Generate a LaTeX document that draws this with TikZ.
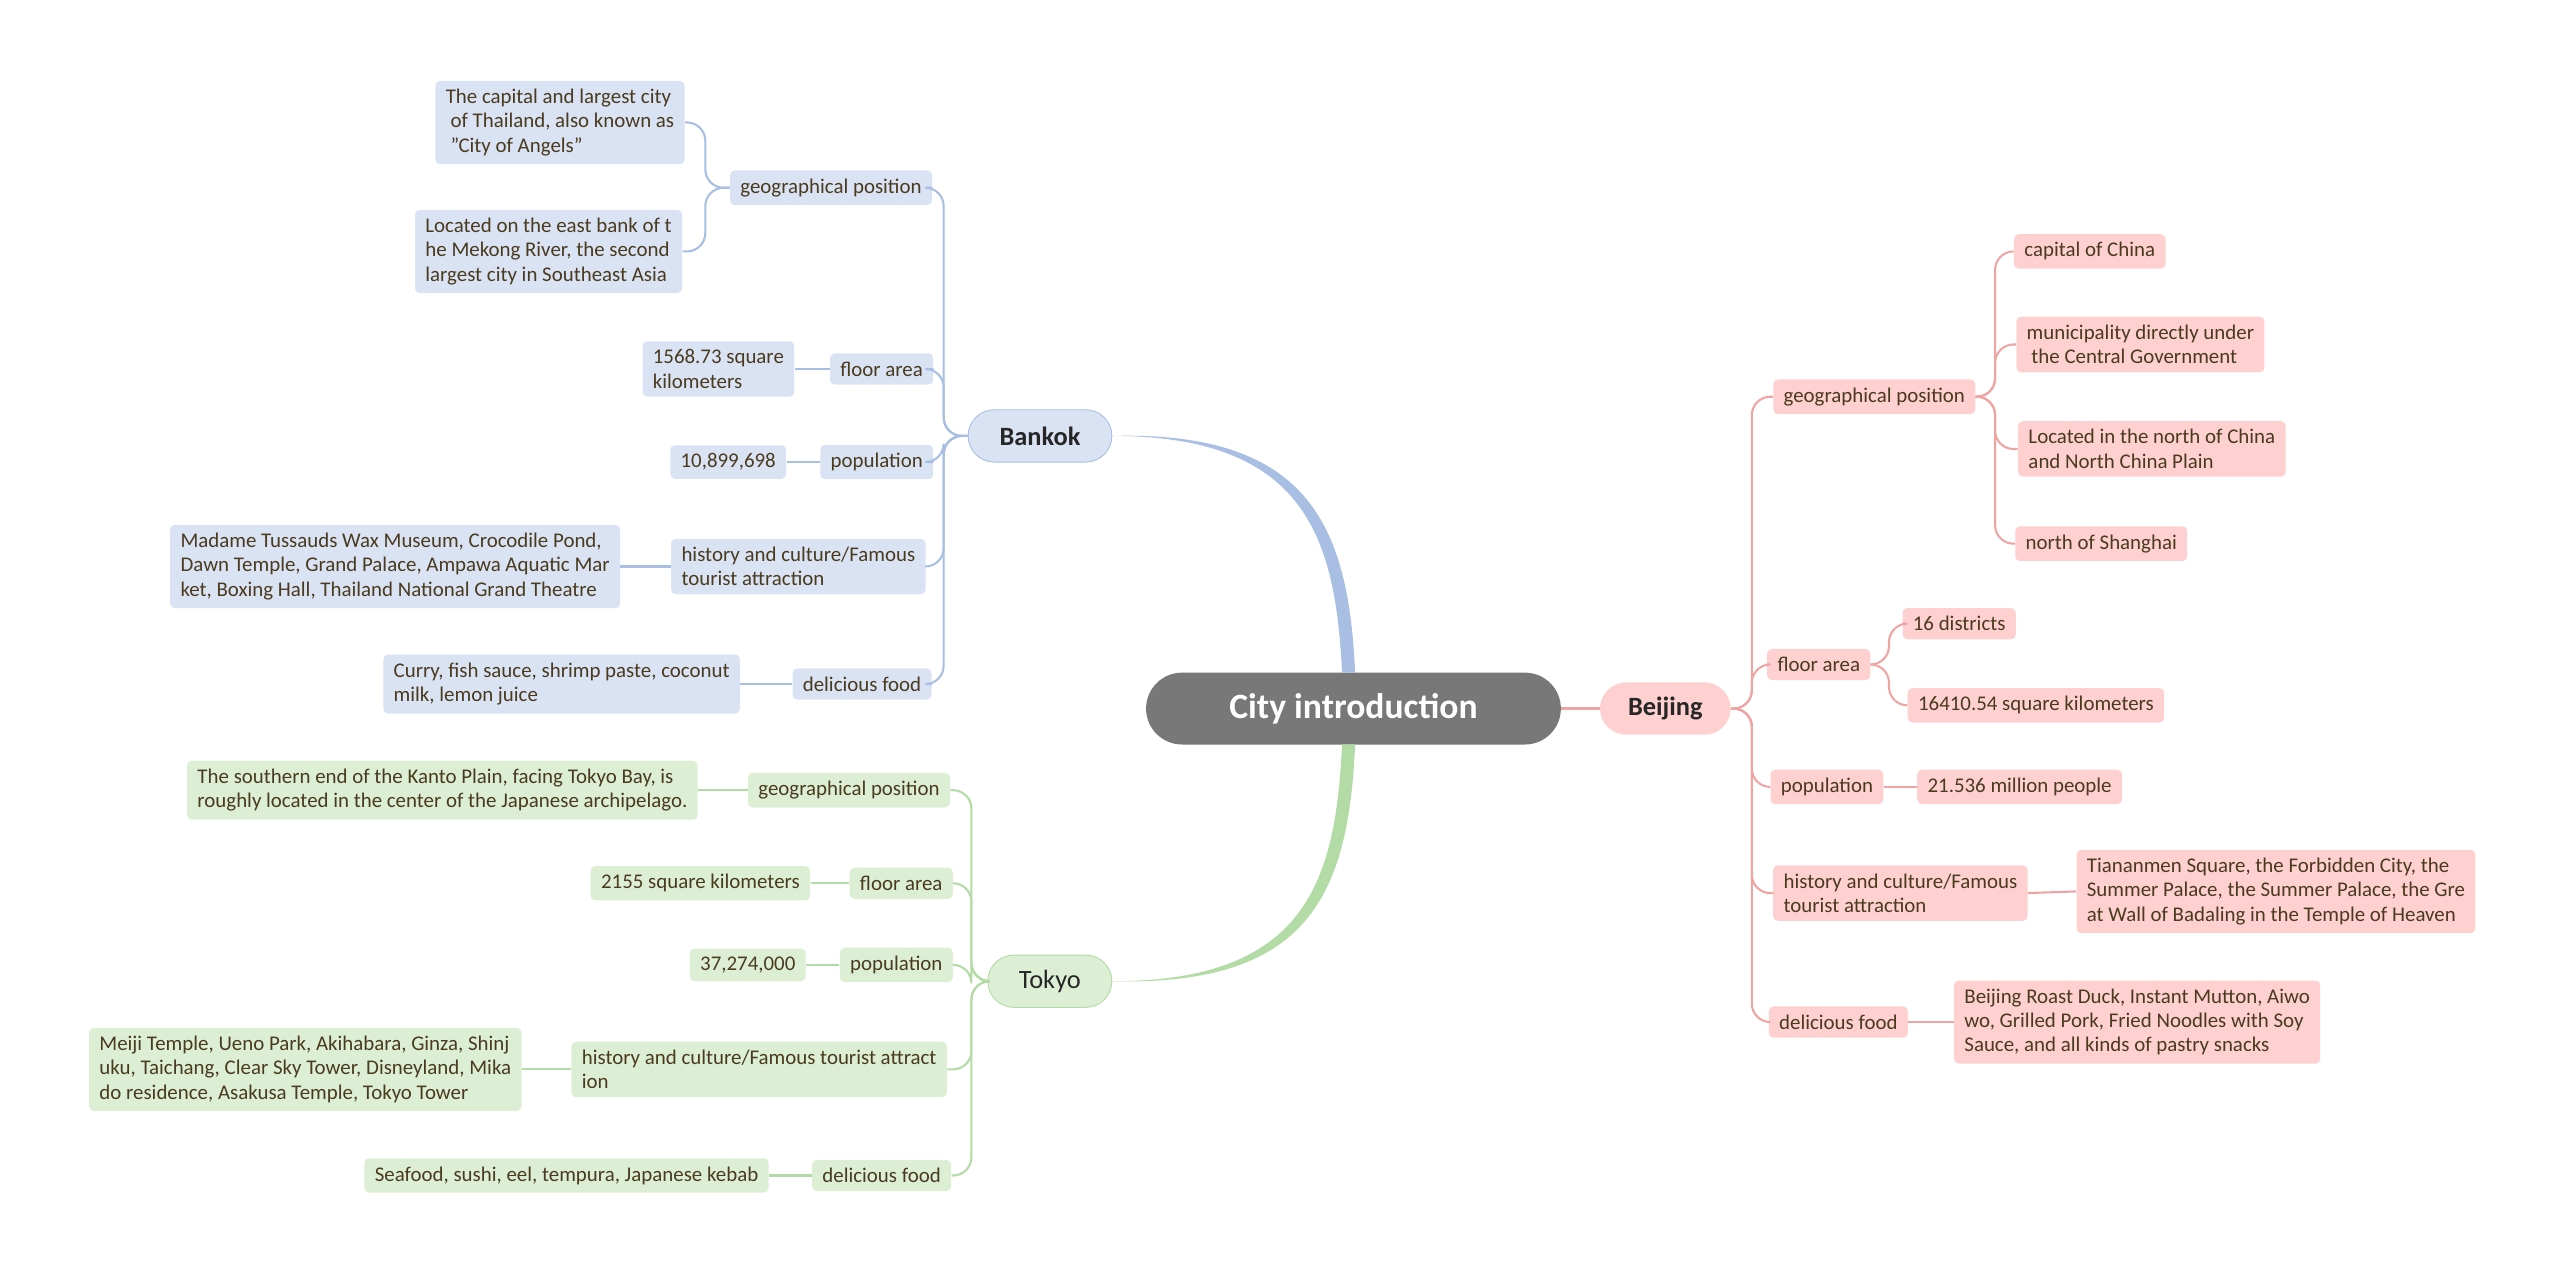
\documentclass[tikz,border=0pt]{standalone}
\usepackage{fontspec}
\setmainfont{Carlito}
\begin{document}
\begin{tikzpicture}[x=0.025cm,y=-0.025cm,
  every node/.style={font=\fontsize{9.1}{10.6}\selectfont, text=txt, align=left, inner xsep=4.5pt, inner ysep=3.6pt, rounded corners=2pt},
  bl/.style={fill=bfill}, pk/.style={fill=pfill}, gr/.style={fill=gfill},
  bline/.style={draw=bln, line width=0.9pt, rounded corners=8},
  pline/.style={draw=pln, line width=0.9pt, rounded corners=8},
  gline/.style={draw=gln, line width=0.9pt, rounded corners=8}]
\definecolor{txt}{HTML}{4A3A1E}
\definecolor{bfill}{HTML}{DAE3F4}\definecolor{bln}{HTML}{A8BEE2}
\definecolor{pfill}{HTML}{FFD0D0}\definecolor{pln}{HTML}{F0A3A3}
\definecolor{gfill}{HTML}{DCEFD5}\definecolor{gln}{HTML}{B3DBA5}
\useasboundingbox (0,0) rectangle (1568,781);
% center
\node[fill=black!53, text=white, font=\fontsize{15.5}{18}\bfseries, minimum width=6.35cm, minimum height=1.1cm, rounded corners=0.55cm] (C) at (829,434) {City introduction};
\node[bl, font=\fontsize{11.5}{13}\bfseries, text=black!85, minimum width=2.2cm, minimum height=0.8cm, rounded corners=0.4cm, draw=bln] (B) at (637,267) {Bankok};
\node[gr, font=\fontsize{11.5}{13}\selectfont, text=black!85, minimum width=1.9cm, minimum height=0.8cm, rounded corners=0.4cm, draw=gln] (T) at (643,601) {Tokyo};
\node[pk, font=\fontsize{11.5}{13}\bfseries, text=black!85, minimum width=2.0cm, minimum height=0.8cm, rounded corners=0.4cm] (J) at (1020,434) {Beijing};
\fill[bln] (B.east) .. controls (800,267) and (818,330) .. (822,412) -- (830,412) .. controls (826,320) and (800,264) .. (B.east) -- cycle;
\fill[gln] (T.east) .. controls (800,601) and (818,540) .. (822,456) -- (830,456) .. controls (826,550) and (800,604) .. (T.east) -- cycle;
\draw[pln, line width=1.5pt] (C.east) -- (J.west);
% Bankok
\node[bl] (b1) at (509,115) {geographical position};
\node[bl] (b2) at (540,226) {floor area};
\node[bl] (b3) at (537,283) {population};
\node[bl] (b4) at (489,347) {history and culture/Famous\\tourist attraction};
\node[bl] (b5) at (528,419) {delicious food};
\foreach \c in {b1,b2,b3,b4,b5} \draw[bline] (B.west) -- (578,267) -- (578,0|-\c.east) -- (\c.east);
\node[bl] (b11) at (343,75) {The capital and largest city\\ \ of Thailand, also known as\\ \ "City of Angels"};
\node[bl] (b12) at (336,154) {Located on the east bank of t\\he Mekong River, the second\\largest city in Southeast Asia};
\foreach \c in {b11,b12} \draw[bline] (b1.west) -- (432,115) -- (432,0|-\c.east) -- (\c.east);
\node[bl] (b21) at (440,226) {1568.73 square\\ kilometers};
\node[bl] (b31) at (446,283) {10,899,698};
\node[bl] (b41) at (242,347) {Madame Tussauds Wax Museum, Crocodile Pond,\\Dawn Temple, Grand Palace, Ampawa Aquatic Mar\\ket, Boxing Hall, Thailand National Grand Theatre};
\node[bl] (b51) at (344,419) {Curry, fish sauce, shrimp paste, coconut\\milk, lemon juice};
\draw[bline] (b2.west)--(b21.east); \draw[bline] (b3.west)--(b31.east);
\draw[bline] (b4.west)--(b41.east); \draw[bline] (b5.west)--(b51.east);
% Tokyo
\node[gr] (t1) at (520,484) {geographical position};
\node[gr] (t2) at (552,541) {floor area};
\node[gr] (t3) at (549,591) {population};
\node[gr] (t4) at (465,655) {history and culture/Famous tourist attract\\ion};
\node[gr] (t5) at (540,720) {delicious food};
\foreach \c in {t1,t2,t3,t4,t5} \draw[gline] (T.west) -- (595,601) -- (595,0|-\c.east) -- (\c.east);
\node[gr] (t11) at (271,484) {The southern end of the Kanto Plain, facing Tokyo Bay, is\\roughly located in the center of the Japanese archipelago.};
\node[gr] (t21) at (429,541) {2155 square kilometers};
\node[gr] (t31) at (458,591) {37,274,000};
\node[gr] (t41) at (187,655) {Meiji Temple, Ueno Park, Akihabara, Ginza, Shinj\\uku, Taichang, Clear Sky Tower, Disneyland, Mika\\do residence, Asakusa Temple, Tokyo Tower};
\node[gr] (t51) at (347,720) {Seafood, sushi, eel, tempura, Japanese kebab};
\draw[gline] (t1.west)--(t11.east); \draw[gline] (t2.west)--(t21.east);
\draw[gline] (t3.west)--(t31.east); \draw[gline] (t4.west)--(t41.east);
\draw[gline] (t5.west)--(t51.east);
% Beijing
\node[pk] (j1) at (1148,243) {geographical position};
\node[pk] (j2) at (1114,407) {floor area};
\node[pk] (j3) at (1119,482) {population};
\node[pk] (j4) at (1164,547) {history and culture/Famous\\tourist attraction};
\node[pk] (j5) at (1126,626) {delicious food};
\foreach \c in {j1,j2,j3,j4,j5} \draw[pline] (J.east) -- (1073,434) -- (1073,0|-\c.west) -- (\c.west);
\node[pk] (j11) at (1280,154) {capital of China};
\node[pk] (j12) at (1311,211) {municipality directly under\\ \ the Central Government};
\node[pk] (j13) at (1318,275) {Located in the north of China\\and North China Plain};
\node[pk] (j14) at (1287,333) {north of Shanghai};
\foreach \c in {j11,j12,j13,j14} \draw[pline] (j1.east) -- (1222,243) -- (1222,0|-\c.west) -- (\c.west);
\node[pk] (j21) at (1200,382) {16 districts};
\node[pk] (j22) at (1247,432) {16410.54 square kilometers};
\foreach \c in {j21,j22} \draw[pline] (j2.east) -- (1157,407) -- (1157,0|-\c.west) -- (\c.west);
\node[pk] (j31) at (1237,482) {21.536 million people};
\node[pk] (j41) at (1394,546) {Tiananmen Square, the Forbidden City, the\\Summer Palace, the Summer Palace, the Gre\\at Wall of Badaling in the Temple of Heaven};
\node[pk] (j51) at (1309,626) {Beijing Roast Duck, Instant Mutton, Aiwo\\wo, Grilled Pork, Fried Noodles with Soy\\Sauce, and all kinds of pastry snacks};
\draw[pline] (j3.east)--(j31.west); \draw[pline] (j4.east)--(j41.west); \draw[pline] (j5.east)--(j51.west);
\end{tikzpicture}
\end{document}
